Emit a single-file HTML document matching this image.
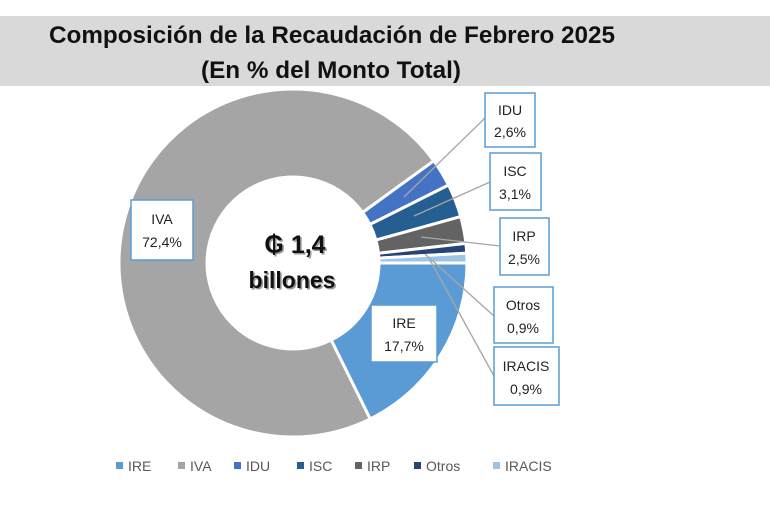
<!DOCTYPE html>
<html><head><meta charset="utf-8"><style>
body{margin:0;background:#fff;width:770px;height:504px;overflow:hidden;font-family:"Liberation Sans",sans-serif}
</style></head><body>
<svg width="770" height="504" xmlns="http://www.w3.org/2000/svg" id="s">
<rect x="0" y="16" width="770" height="70" fill="#d9d9d9"/>
<g font-family="Liberation Sans, sans-serif" font-weight="bold" fill="#111" font-size="24" text-anchor="middle">
<text x="332" y="43" textLength="566" lengthAdjust="spacingAndGlyphs">Composición de la Recaudación de Febrero 2025</text>
<text x="331" y="78" textLength="260" lengthAdjust="spacingAndGlyphs">(En % del Monto Total)</text>
</g>
<g id="pie"></g>
<g stroke="#a6a6a6" stroke-width="1.3">
<line x1="485" y1="118" x2="404" y2="197"/>
<line x1="490" y1="182" x2="414" y2="216"/>
<line x1="500" y1="246" x2="421" y2="237"/>
<line x1="494" y1="316" x2="425" y2="254"/>
<line x1="494" y1="376" x2="430" y2="260"/>
</g>
<g font-family="Liberation Sans, sans-serif" font-size="14" fill="#222" text-anchor="middle">
<rect x="131" y="200" width="62" height="60" fill="#fff" stroke="#5b9bd5" stroke-width="1.5"/>
<text x="162" y="224">IVA</text><text x="162" y="247">72,4%</text>
<rect x="371" y="305" width="66" height="57" fill="#fff" stroke="#5b9bd5" stroke-width="1.5"/>
<text x="404" y="328">IRE</text><text x="404" y="351">17,7%</text>
<rect x="485" y="93" width="50" height="54" fill="#fff" stroke="#5b9bd5" stroke-width="1.5"/>
<text x="510" y="115">IDU</text><text x="510" y="137">2,6%</text>
<rect x="490" y="153" width="51" height="57" fill="#fff" stroke="#5b9bd5" stroke-width="1.5"/>
<text x="515" y="176">ISC</text><text x="515" y="199">3,1%</text>
<rect x="500" y="218" width="49" height="57" fill="#fff" stroke="#5b9bd5" stroke-width="1.5"/>
<text x="524" y="241">IRP</text><text x="524" y="264">2,5%</text>
<rect x="494" y="287" width="59" height="56" fill="#fff" stroke="#5b9bd5" stroke-width="1.5"/>
<text x="523" y="310">Otros</text><text x="523" y="333">0,9%</text>
<rect x="494" y="347" width="65" height="58" fill="#fff" stroke="#5b9bd5" stroke-width="1.5"/>
<text x="526" y="371">IRACIS</text><text x="526" y="394">0,9%</text>
</g>
<g font-family="Liberation Sans, sans-serif" font-weight="bold" text-anchor="middle">
<text x="295" y="253" font-size="25" fill="#999" dx="1.5" dy="1.5">₲ 1,4</text>
<text x="295" y="253" font-size="25" fill="#111">₲ 1,4</text>
<text x="292" y="288" font-size="23" fill="#999" dx="1.5" dy="1.5">billones</text>
<text x="292" y="288" font-size="23" fill="#111">billones</text>
</g>
<g font-family="Liberation Sans, sans-serif" font-size="14" fill="#595959">
<rect x="116" y="462" width="7" height="7" fill="#5b9bd5"/><text x="128" y="471">IRE</text>
<rect x="178" y="462" width="7" height="7" fill="#a5a5a5"/><text x="190" y="471">IVA</text>
<rect x="234" y="462" width="7" height="7" fill="#4472c4"/><text x="246" y="471">IDU</text>
<rect x="297" y="462" width="7" height="7" fill="#255e91"/><text x="309" y="471">ISC</text>
<rect x="355" y="462" width="7" height="7" fill="#636363"/><text x="367" y="471">IRP</text>
<rect x="414" y="462" width="7" height="7" fill="#264478"/><text x="426" y="471">Otros</text>
<rect x="493" y="462" width="7" height="7" fill="#9dc3e6"/><text x="505" y="471">IRACIS</text>
</g>
</svg>
<script>
var cx=293,cy=263,R=174,r=86;
var d=[[17.7,"#5b9bd5"],[72.4,"#a5a5a5"],[2.6,"#4472c4"],[3.1,"#255e91"],[2.5,"#636363"],[0.9,"#264478"],[0.9,"#9dc3e6"]];
var tot=100.1,a=0,g=document.getElementById("pie"),h="";
function p(rr,t){t=t*Math.PI/180;return (cx+rr*Math.cos(t)).toFixed(2)+","+(cy+rr*Math.sin(t)).toFixed(2);}
d.forEach(function(s){var b=a+s[0]/tot*360,l=(b-a)>180?1:0;
h+='<path d="M'+p(R,a)+' A'+R+','+R+' 0 '+l+' 1 '+p(R,b)+' L'+p(r,b)+' A'+r+','+r+' 0 '+l+' 0 '+p(r,a)+' Z" fill="'+s[1]+'" stroke="#fff" stroke-width="3"/>';a=b;});
g.innerHTML=h;
</script>
</body></html>
